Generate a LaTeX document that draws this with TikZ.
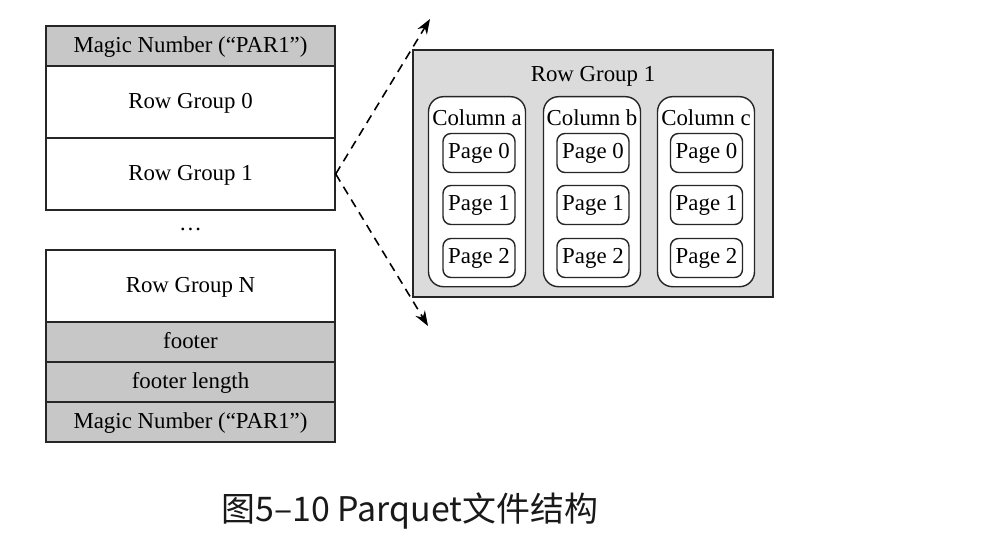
\documentclass[tikz,border=0pt]{standalone}
\usepackage{fontspec}
\setmainfont{Liberation Serif}
\newfontfamily\cjkfont{Noto Sans CJK SC}
\usetikzlibrary{arrows.meta}

\begin{document}
\begin{tikzpicture}[scale=0.2,
  cell/.style={draw=black!85, line width=0.8pt, minimum width=5.78cm, inner sep=0pt, text height=0.85em, text depth=0.12em, font=\fontsize{13}{15}\selectfont},
  greycell/.style={cell, fill=black!22, minimum height=0.8cm},
  whitecell/.style={cell, fill=white, minimum height=1.44cm},
  colbox/.style={draw=black!85, line width=0.8pt, rounded corners=0.3cm, fill=white, minimum width=1.94cm, minimum height=3.8cm},
  pagebox/.style={draw=black!85, line width=0.8pt, rounded corners=0.16cm, minimum width=1.44cm, minimum height=0.78cm, inner sep=0pt, font=\fontsize{13}{15}\selectfont},
  lbl/.style={inner sep=0pt, font=\fontsize{13}{15}\selectfont},
  zoomline/.style={dash pattern=on 5pt off 3.5pt, line width=0.9pt, -{Stealth[length=0.3cm, width=0.22cm]}}]
\useasboundingbox (0,0) rectangle (100,-54.2);
% file layout
\node [greycell] (magictop) at (19.05,-4.6) {Magic Number (``PAR1'')};
\node [whitecell] (rg0) at (19.05,-10.2) {Row Group 0};
\node [whitecell] (rg1) at (19.05,-17.4) {Row Group 1};
\node [lbl] (dots) at (19.05,-22.9) {\dots};
\node [whitecell] (rgN) at (19.05,-28.6) {Row Group N};
\node [greycell] (footer) at (19.05,-34.2) {footer};
\node [greycell] (footlen) at (19.05,-38.2) {footer length};
\node [greycell] (magicbot) at (19.05,-42.2) {Magic Number (``PAR1'')};
% expanded row group
\node [draw=black!85, line width=0.8pt, fill=black!14, minimum width=7.2cm, minimum height=4.94cm] (detail) at (59.3,-17.35) {};
\node [lbl] (title) at (59.3,-7.6) {Row Group 1};
\node [colbox] (cola) at (47.7,-19.17) {};
\node [colbox] (colb) at (59.2,-19.17) {};
\node [colbox] (colc) at (70.6,-19.17) {};
\node [lbl] (cola label) at (47.7,-11.8) {Column a};
\node [lbl] (colb label) at (59.2,-11.8) {Column b};
\node [lbl] (colc label) at (70.6,-11.8) {Column c};
\node [pagebox] (a0) at (47.9,-15.3) {Page 0};
\node [pagebox] (a1) at (47.9,-20.5) {Page 1};
\node [pagebox] (a2) at (47.9,-25.8) {Page 2};
\node [pagebox] (b0) at (59.3,-15.3) {Page 0};
\node [pagebox] (b1) at (59.3,-20.5) {Page 1};
\node [pagebox] (b2) at (59.3,-25.8) {Page 2};
\node [pagebox] (c0) at (70.65,-15.3) {Page 0};
\node [pagebox] (c1) at (70.65,-20.5) {Page 1};
\node [pagebox] (c2) at (70.65,-25.8) {Page 2};
% zoom lines
\coordinate (toptip) at (43,-1.9);
\coordinate (bottip) at (42.8,-32.6);
\draw [zoomline] (rg1.east) -- (toptip);
\draw [zoomline] (rg1.east) -- (bottip);
\node [inner sep=0pt, text=black!90, font=\cjkfont\fontsize{19.3}{22}\selectfont] (caption) at (41,-51.1) {图5–10 Parquet文件结构};
\end{tikzpicture}
\end{document}
